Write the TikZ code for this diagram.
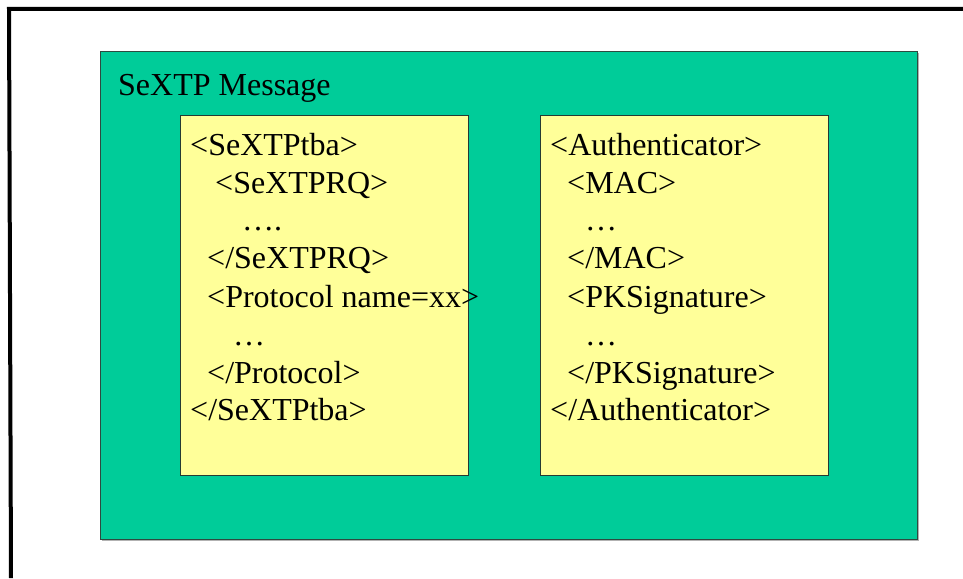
\documentclass[tikz,border=0pt]{standalone}
\usepackage{fontspec}
\setmainfont{Liberation Serif}
\definecolor{msggreen}{HTML}{00CC99}
\definecolor{partyellow}{HTML}{FFFF99}
\definecolor{edgegray}{HTML}{2E4A40}
\begin{document}
\begin{tikzpicture}[x=1pt,y=-1pt,
  msgbox/.style={draw=edgegray,line width=0.9pt,fill=msggreen,inner sep=0pt,anchor=north west},
  partbox/.style={draw=edgegray!80!black,line width=0.9pt,fill=partyellow,inner sep=0pt,anchor=north west},
  shade/.style={fill=black!30,draw=none,inner sep=0pt,anchor=north west},
  tag/.style={font=\fontsize{32}{38}\selectfont,anchor=base west,inner sep=0pt}]
  \useasboundingbox (0,0) rectangle (963,578);
  % frame: top and left edges
  \draw[line width=4pt] (963,9) -- (9,9) -- (11,578);
  % outer message box with light drop shadow
  \node[shade,minimum width=817pt,minimum height=488pt] at (101.5,52.5) {};
  \node[msgbox,minimum width=817pt,minimum height=488pt] (msg) at (100,51) {};
  \node[tag] (title) at (118,95) {SeXTP Message};
  % left part: tba block
  \node[partbox,minimum width=288pt,minimum height=360pt] (tba) at (180,115) {};
  \node[tag] (t1) at (190,155) {<SeXTPtba>};
  \node[tag] (t2) at (215,193) {<SeXTPRQ>};
  \node[tag] (t3) at (242,230) {….};
  \node[tag] (t4) at (207,268) {</SeXTPRQ>};
  \node[tag] (t5) at (207,307) {<Protocol name=xx>};
  \node[tag] (t6) at (233,345) {…};
  \node[tag] (t7) at (207,383) {</Protocol>};
  \node[tag] (t8) at (190,420) {</SeXTPtba>};
  % right part: authenticator block
  \node[partbox,minimum width=288pt,minimum height=360pt] (auth) at (540,115) {};
  \node[tag] (a1) at (550,155) {<Authenticator>};
  \node[tag] (a2) at (567,193) {<MAC>};
  \node[tag] (a3) at (585,230) {…};
  \node[tag] (a4) at (567,268) {</MAC>};
  \node[tag] (a5) at (567,307) {<PKSignature>};
  \node[tag] (a6) at (585,345) {…};
  \node[tag] (a7) at (567,383) {</PKSignature>};
  \node[tag] (a8) at (550,420) {</Authenticator>};
\end{tikzpicture}
\end{document}
